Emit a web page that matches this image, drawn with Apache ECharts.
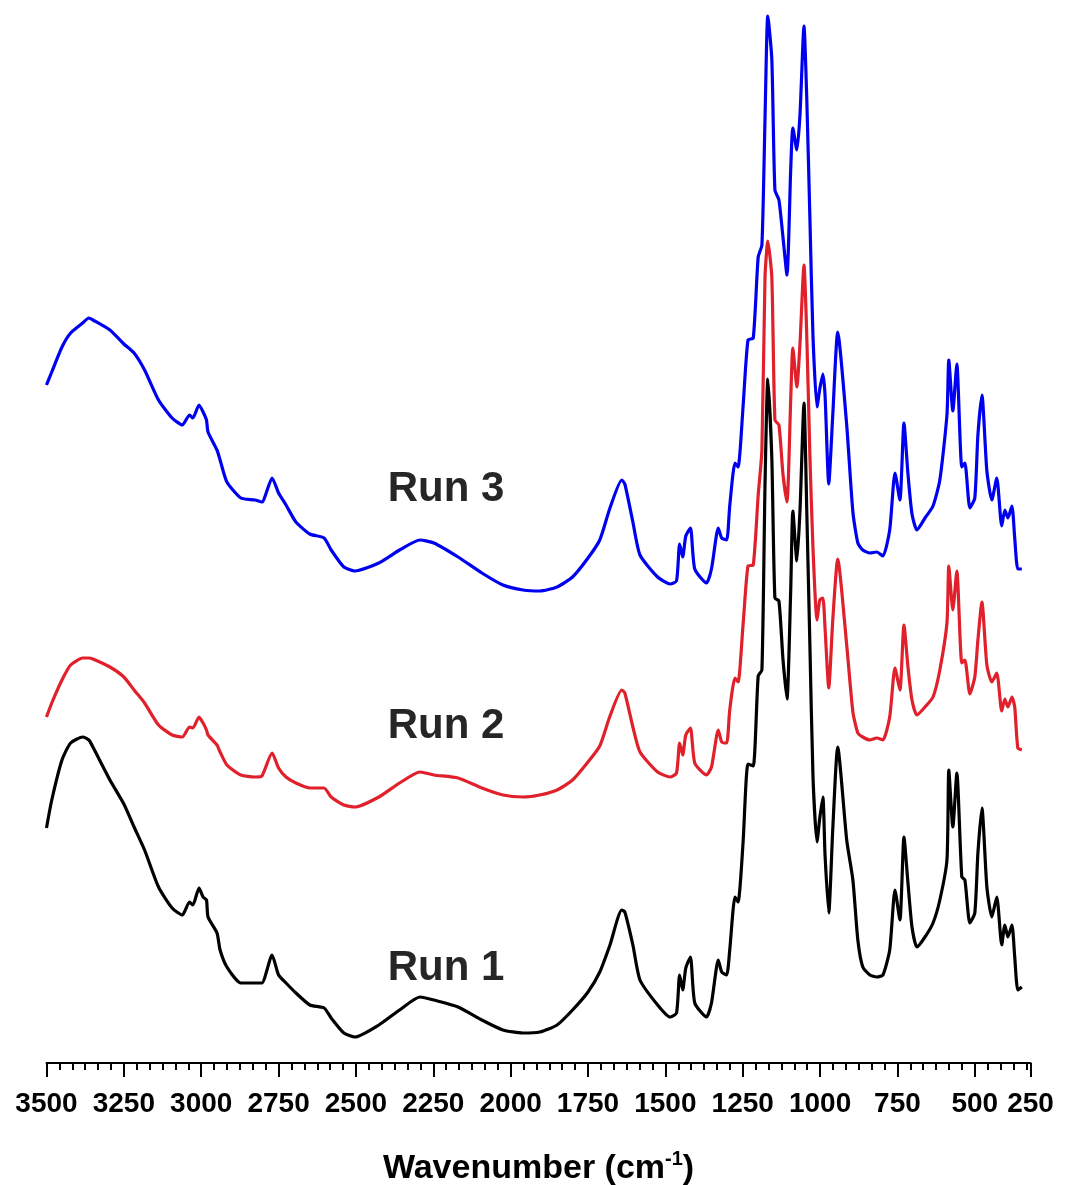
<!DOCTYPE html>
<html><head><meta charset="utf-8">
<script src="https://cdn.jsdelivr.net/npm/echarts@6/dist/echarts.min.js"></script>
<style>html,body{margin:0;padding:0;background:#fff}#c{width:1066px;height:1185px}</style>
</head><body><div id="c"></div>
<script>
// Wavenumbers (cm-1), shared by the three runs
const wavenumbers = [3500,3483,3450,3422,3383,3363,3350,3295,3250,3217,3183,3138,3094,3061,3038,3027,3007,2994,2983,2978,2949,2939,2917,2872,2826,2804,2771,2750,2726,2694,2649,2603,2580,2539,2503,2426,2359,2293,2248,2170,2093,2025,1960,1906,1850,1800,1750,1712,1679,1641,1631,1605,1582,1525,1485,1464,1454,1444,1434,1419,1405,1367,1351,1329,1318,1302,1292,1275,1265,1249,1233,1216,1200,1188,1178,1169,1156,1146,1133,1120,1107,1095,1088,1075,1065,1052,1043,1033,1023,1010,1001,991,984,972,959,943,914,894,878,862,839,817,797,775,758,742,729,716,703,687,661,635,613,590,584,571,558,542,532,516,500,490,477,461,445,429,413,403,393,380,371,361,348];
// Stacked (offset) intensities, arbitrary units
const run1 = [2.35,2.63,3.03,3.20,3.26,3.23,3.16,2.83,2.59,2.36,
2.13,1.76,1.55,1.48,1.61,1.58,1.75,1.66,1.63,1.46,
1.30,1.13,0.96,0.80,0.80,0.80,1.08,0.88,0.80,0.70,
0.58,0.55,0.45,0.30,0.26,0.38,0.53,0.66,0.63,0.56,
0.43,0.33,0.30,0.31,0.38,0.53,0.71,0.91,1.18,1.53,
1.51,1.18,0.83,0.58,0.46,0.50,0.88,0.73,0.95,1.06,
0.60,0.46,0.60,1.03,0.91,0.88,1.13,1.66,1.61,2.20,
2.99,2.97,3.87,3.93,5.78,6.84,6.05,4.65,4.62,4.04,
3.64,4.72,5.52,5.02,5.52,6.60,5.52,4.19,2.87,2.21,
2.45,2.66,2.08,1.50,2.34,3.16,2.23,1.83,1.23,0.96,
0.88,0.86,0.88,1.13,1.73,1.43,2.26,1.80,1.36,1.16,
1.26,1.40,1.63,2.03,2.93,2.36,2.90,1.86,1.83,1.40,
1.50,2.10,2.55,1.76,1.46,1.66,1.18,1.38,1.26,1.38,
1.06,0.73,0.76];
const run2 = [3.46,3.60,3.83,3.98,4.05,4.05,4.04,3.96,3.86,3.73,
3.60,3.38,3.28,3.26,3.36,3.35,3.46,3.40,3.33,3.28,
3.18,3.11,2.98,2.88,2.86,2.87,3.10,2.95,2.86,2.80,
2.75,2.75,2.66,2.58,2.56,2.66,2.80,2.91,2.88,2.85,
2.75,2.68,2.66,2.68,2.73,2.83,3.01,3.17,3.47,3.73,
3.70,3.36,3.11,2.91,2.86,2.90,3.20,3.08,3.28,3.35,
3.00,2.88,2.96,3.33,3.21,3.20,3.53,3.85,3.81,4.38,
4.97,4.98,5.68,6.13,7.86,8.22,7.86,6.43,6.38,5.89,
5.61,6.63,7.15,6.76,7.19,7.98,7.27,6.08,5.15,4.43,
4.63,4.65,4.35,3.75,4.43,5.04,4.18,3.51,3.30,3.26,
3.23,3.25,3.23,3.46,3.95,3.73,4.38,3.96,3.63,3.48,
3.56,3.66,3.93,4.40,4.97,4.53,4.92,4.00,4.03,3.69,
3.86,4.23,4.61,3.98,3.81,3.90,3.52,3.64,3.56,3.66,
3.56,3.15,3.13];
const run3 = [6.78,6.91,7.16,7.30,7.40,7.45,7.43,7.33,7.19,7.10,
6.93,6.63,6.45,6.38,6.48,6.45,6.58,6.51,6.43,6.31,
6.13,6.03,5.81,5.65,5.63,5.61,5.85,5.70,5.58,5.41,
5.29,5.25,5.13,4.96,4.92,5.00,5.13,5.23,5.20,5.06,
4.90,4.78,4.73,4.72,4.76,4.86,5.05,5.23,5.55,5.83,
5.79,5.41,5.08,4.86,4.79,4.82,5.19,5.06,5.27,5.35,
4.94,4.80,4.94,5.35,5.25,5.23,5.57,6.00,5.96,6.56,
7.23,7.25,8.06,8.18,9.44,10.47,10.04,8.73,8.63,8.26,
7.88,8.93,9.35,9.13,9.48,10.37,9.64,8.46,7.27,6.56,
6.74,6.89,6.68,5.79,6.48,7.31,6.38,5.51,5.20,5.13,
5.10,5.11,5.07,5.33,5.90,5.63,6.40,5.89,5.49,5.33,
5.45,5.57,5.83,6.48,7.03,6.52,6.99,5.96,6.00,5.55,
5.65,6.28,6.68,5.92,5.63,5.85,5.37,5.53,5.45,5.57,
5.25,4.94,4.94];

const runNames = ['Run 1', 'Run 2', 'Run 3'];
const runColors = ['#000000', '#E0202A', '#0000F0'];
const runLabelX = [2209, 2209, 2209];
const runLabelY = [0.95, 3.37, 5.74];

const majorTicks = [3500,3250,3000,2750,2500,2250,2000,1750,1500,1250,1000,750,500];
const axisEnd = 320;
const tickLabelValues = [3500,3250,3000,2750,2500,2250,2000,1750,1500,1250,1000,750,500,320];
const tickLabels = ['3500','3250','3000','2750','2500','2250','2000','1750','1500','1250','1000','750','500','250'];

const minorTicks = [];
for (let k = 0; ; k++) {
  const v = 3500 - k * 250 / 6;
  if (v < axisEnd) break;
  if (k % 6 !== 0) minorTicks.push(v);
}

const FONT = 'Liberation Sans, Arial, Helvetica, sans-serif';
const chart = echarts.init(document.getElementById('c'), null, {renderer: 'canvas'});

const series = [run1, run2, run3].map((vals, i) => ({
  type: 'line',
  name: runNames[i],
  data: wavenumbers.map((w, j) => [w, vals[j]]),
  showSymbol: false,
  smooth: 0.2,
  clip: false,
  lineStyle: {color: runColors[i], width: 3.2},
  itemStyle: {color: runColors[i]},
  z: 3 - i
}));

chart.setOption({
  animation: false,
  backgroundColor: '#fff',
  grid: {left: 46.5, right: 35.5, top: 13, bottom: 122, containLabel: false, outerBoundsMode: 'none'},
  xAxis: [{
    type: 'value', min: axisEnd, max: 3500, inverse: true, position: 'bottom',
    axisLine: {show: true, onZero: false, lineStyle: {color: '#000', width: 2}},
    axisTick: {show: true, inside: false, length: 14, lineStyle: {color: '#000', width: 2},
      customValues: majorTicks.concat([axisEnd])},
    axisLabel: {
      customValues: tickLabelValues,
      formatter: v => tickLabels[tickLabelValues.indexOf(v)] || '',
      fontSize: 28, fontWeight: 'bold', fontFamily: FONT, color: '#000', margin: 27,
      showMinLabel: true, showMaxLabel: true, hideOverlap: false
    },
    splitLine: {show: false},
    name: '{b|Wavenumber (cm}{s|-1}{b|)}',
    nameLocation: 'middle', nameGap: 86,
    nameTextStyle: {
      rich: {
        b: {fontSize: 34, fontWeight: 'bold', fontFamily: FONT, color: '#000', lineHeight: 40},
        s: {fontSize: 20, fontWeight: 'bold', fontFamily: FONT, color: '#000', verticalAlign: 'top', lineHeight: 40, padding: [0, 0, 12, 0]}
      }
    }
  }, {
    type: 'value', min: axisEnd, max: 3500, inverse: true, position: 'bottom',
    axisLine: {show: false, onZero: false},
    axisTick: {show: true, inside: false, length: 7, lineStyle: {color: '#000', width: 2},
      customValues: minorTicks},
    axisLabel: {show: false},
    splitLine: {show: false}
  }],
  yAxis: {type: 'value', min: 0, max: 10.5, show: false},
  series: series
});

// Run labels placed in data coordinates
chart.setOption({
  graphic: runNames.map((n, i) => {
    const p = chart.convertToPixel({xAxisIndex: 0, yAxisIndex: 0}, [runLabelX[i], runLabelY[i]]);
    return {
      type: 'text', x: p[0], y: p[1], z: 100,
      style: {text: n, fill: '#262626', font: 'bold 42px ' + FONT, align: 'center', verticalAlign: 'middle'}
    };
  })
});
</script>
</body></html>
